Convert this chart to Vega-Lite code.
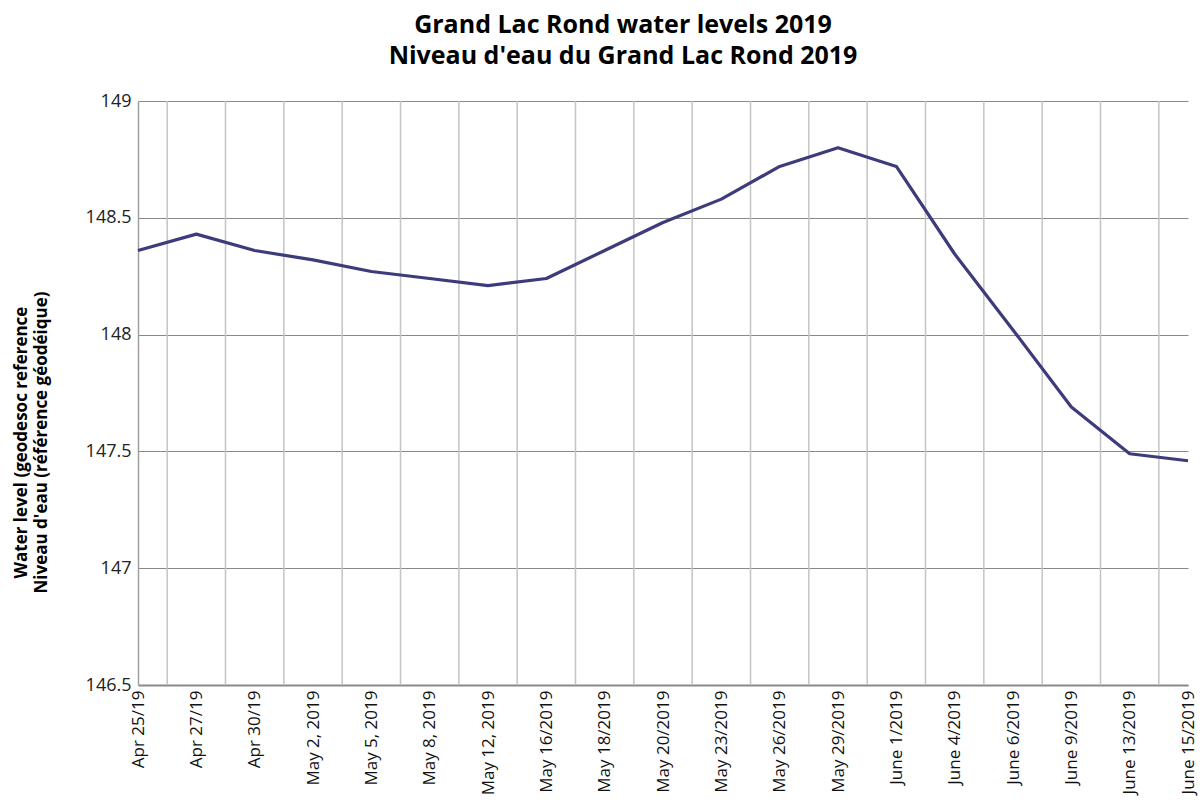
{
  "$schema": "https://vega.github.io/schema/vega-lite/v6.json",
  "width": 1050,
  "height": 584,
  "autosize": {"type": "none"},
  "padding": {"left": 138, "top": 101, "right": 15, "bottom": 120},
  "background": "white",
  "config": {
    "view": {"stroke": null},
    "font": "Open Sans"
  },
  "title": {
    "text": ["Grand Lac Rond water levels 2019", "Niveau d'eau du Grand Lac Rond 2019"],
    "font": "Open Sans",
    "fontSize": 25,
    "fontWeight": "bold",
    "color": "#000000",
    "lineHeight": 31,
    "anchor": "middle",
    "frame": "group",
    "dx": -40,
    "offset": 23
  },
  "data": {
    "values": [
      {"date": "Apr 25/19", "level": 148.36},
      {"date": "Apr 27/19", "level": 148.43},
      {"date": "Apr 30/19", "level": 148.36},
      {"date": "May 2, 2019", "level": 148.32},
      {"date": "May 5, 2019", "level": 148.27},
      {"date": "May 8, 2019", "level": 148.24},
      {"date": "May 12, 2019", "level": 148.21},
      {"date": "May 16/2019", "level": 148.24},
      {"date": "May 18/2019", "level": 148.36},
      {"date": "May 20/2019", "level": 148.48},
      {"date": "May 23/2019", "level": 148.58},
      {"date": "May 26/2019", "level": 148.72},
      {"date": "May 29/2019", "level": 148.80},
      {"date": "June 1/2019", "level": 148.72},
      {"date": "June 4/2019", "level": 148.345},
      {"date": "June 6/2019", "level": 148.02},
      {"date": "June 9/2019", "level": 147.69},
      {"date": "June 13/2019", "level": 147.49},
      {"date": "June 15/2019", "level": 147.46}
    ]
  },
  "encoding": {
    "x": {
      "field": "date",
      "type": "nominal",
      "sort": null,
      "scale": {"type": "point", "padding": 0},
      "axis": {
        "orient": "bottom",
        "title": null,
        "grid": false,
        "ticks": false,
        "domain": true,
        "domainColor": "#8a8a8a",
        "domainWidth": 2,
        "labelAngle": 270,
        "labelAlign": "right",
        "labelBaseline": "middle",
        "labelPadding": 5,
        "labelFontSize": 17,
        "labelColor": "#111111",
        "labelFont": "Open Sans",
        "labelOverlap": false,
        "labelBound": false
      }
    }
  },
  "layer": [
    {
      "transform": [{"filter": "datum.date != 'June 15/2019'"}],
      "mark": {"type": "rule", "color": "#c4c4c4", "strokeWidth": 1.5, "xOffset": 29.17},
      "encoding": {}
    },
    {
      "mark": {"type": "line", "color": "#3d3b7c", "strokeWidth": 3.2, "strokeJoin": "round"},
      "encoding": {
        "y": {
          "field": "level",
          "type": "quantitative",
          "scale": {"domain": [146.5, 149], "zero": false, "nice": false},
          "axis": {
            "values": [146.5, 147, 147.5, 148, 148.5, 149],
            "format": "~g",
            "grid": true,
            "gridColor": "#8a8a8a",
            "gridWidth": 1,
            "domain": true,
            "domainColor": "#a0a0a0",
            "domainWidth": 1.5,
            "ticks": false,
            "labelPadding": 7,
            "labelFontSize": 18,
            "labelColor": "#222222",
            "labelFont": "Open Sans",
            "title": ["Water level (geodesoc reference", "Niveau d'eau (référence géodéique)"],
            "titleFont": "Open Sans",
            "titleFontSize": 17,
            "titleFontWeight": "bold",
            "titleColor": "#000000",
            "titleAngle": 270,
            "titleAlign": "center",
            "titleBaseline": "middle",
            "titleLineHeight": 20,
            "titleX": -117,
            "titleY": 341
          }
        }
      }
    }
  ]
}
